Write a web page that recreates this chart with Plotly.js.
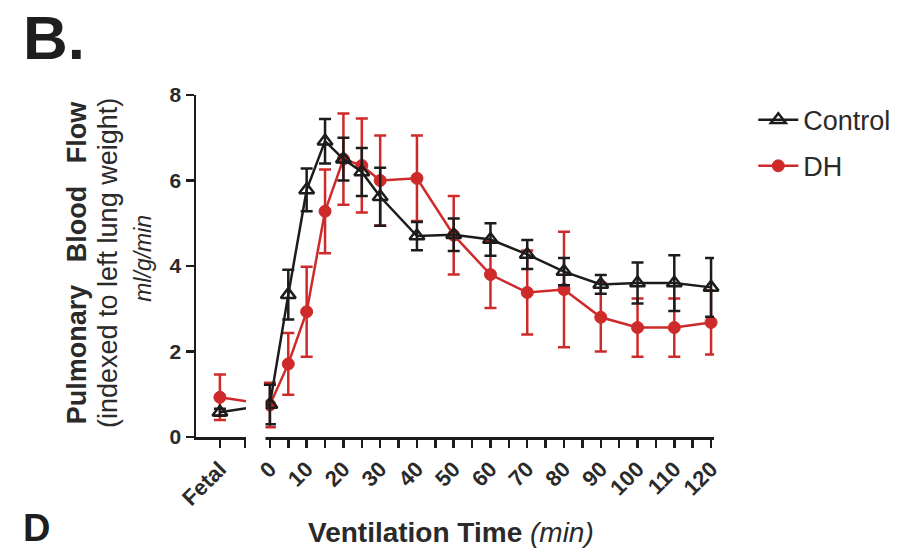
<!DOCTYPE html>
<html>
<head>
<meta charset="utf-8">
<script src="https://cdn.plot.ly/plotly-3.0.1.min.js"></script>
<style>html,body{margin:0;padding:0;background:#fff;}#chart{width:900px;height:552px;}</style>
</head>
<body>
<div id="chart"></div>
<script>
// ---- data ----
const timeLabels = ['Fetal','0','5','10','15','20','25','30','40','50','60','70','80','90','100','110','120'];
const controlMean = [0.58, 0.76, 3.33, 5.78, 6.92, 6.5, 6.2, 5.62, 4.7, 4.73, 4.62, 4.27, 3.87, 3.57, 3.6, 3.6, 3.5];
const controlErr  = [0.08, 0.46, 0.58, 0.5, 0.52, 0.5, 0.56, 0.68, 0.33, 0.38, 0.38, 0.34, 0.32, 0.22, 0.48, 0.65, 0.69];
const dhMean = [0.93, 0.75, 1.71, 2.93, 5.28, 6.5, 6.35, 6.0, 6.05, 4.72, 3.8, 3.38, 3.45, 2.8, 2.56, 2.56, 2.68];
const dhErr  = [0.53, 0.52, 0.72, 1.05, 0.98, 1.07, 1.1, 1.05, 1.0, 0.92, 0.78, 0.98, 1.35, 0.8, 0.68, 0.68, 0.75];
const majorTicks = ['0','10','20','30','40','50','60','70','80','90','100','110','120'];
const yTicks = [0, 2, 4, 6, 8];

// ---- layout constants ----
const FETAL_POS = -13.6;   // position of the "Fetal" category on the broken axis
const FETAL_END = -6.8;    // end of the fetal axis segment
const FONT = 'Liberation Sans, Arial, Helvetica, sans-serif';
const BLACK = '#1c1c1c';
const RED = '#cf2a2a';
const TXT = '#2a2a2a';

const xPos = timeLabels.map(l => l === 'Fetal' ? FETAL_POS : Number(l));

// tick positions: fetal, segment end, and every 5 min on the main segment
const tickVals = [FETAL_POS, FETAL_END];
const tickText = ['Fetal', ''];
for (let t = 0; t <= 120; t += 5) {
  tickVals.push(t);
  tickText.push(majorTicks.includes(String(t)) ? String(t) : '');
}

const dh = {
  x: xPos, y: dhMean, type: 'scatter', mode: 'lines+markers', name: 'DH',
  legendrank: 2, legendgroup: 'dh', cliponaxis: false,
  line: {color: RED, width: 2.5},
  marker: {symbol: 'circle', size: 12, color: RED, line: {color: RED, width: 1}},
  error_y: {type: 'data', array: dhErr, visible: true, color: RED, thickness: 2.5, width: 6}
};
const control = {
  x: xPos, y: controlMean, type: 'scatter', mode: 'lines+markers', name: 'Control',
  legendrank: 1, legendgroup: 'ctl', cliponaxis: false,
  line: {color: BLACK, width: 2.5},
  marker: {symbol: 'triangle-up-open', size: 13, color: BLACK, line: {color: BLACK, width: 2.5}},
  error_y: {type: 'data', array: controlErr, visible: true, color: BLACK, thickness: 2.5, width: 6}
};

const layout = {
  width: 900, height: 552,
  paper_bgcolor: '#ffffff', plot_bgcolor: 'rgba(0,0,0,0)',
  margin: {l: 196, r: 186, t: 95, b: 115},
  font: {family: FONT, color: TXT},
  showlegend: true,
  legend: {
    xref: 'container', x: 0.837, xanchor: 'left', y: 0.998, yanchor: 'top',
    font: {family: FONT, size: 27, color: TXT},
    traceorder: 'grouped', tracegroupgap: 8, itemwidth: 40,
    bgcolor: 'rgba(0,0,0,0)'
  },
  xaxis: {
    range: [-20.1, 120.8], showgrid: false, zeroline: false,
    showline: true, linecolor: BLACK, linewidth: 2.5,
    tickmode: 'array', tickvals: tickVals, ticktext: tickText,
    ticks: 'outside', ticklen: 8, tickwidth: 2.5, tickcolor: BLACK,
    tickangle: -45, tickfont: {family: FONT, size: 22, color: TXT, weight: 'bold'}
  },
  yaxis: {
    range: [0, 8], showgrid: false, zeroline: false,
    showline: true, linecolor: BLACK, linewidth: 2.5,
    tickmode: 'array', tickvals: yTicks,
    ticks: 'outside', ticklen: 8, tickwidth: 2.5, tickcolor: BLACK,
    tickfont: {family: FONT, size: 21, color: TXT, weight: 'bold'}
  },
  shapes: [
    // axis break: mask the gap between the fetal segment and the ventilation segment
    {type: 'rect', layer: 'above', xref: 'x', yref: 'paper',
     x0: FETAL_END + 0.3, x1: -1.2, y0: -0.04, y1: 0.14,
     fillcolor: '#ffffff', line: {width: 0}}
  ],
  annotations: [
    {text: '<b>B.</b>', xref: 'paper', yref: 'paper', x: -0.338, y: 1.276,
     xanchor: 'left', yanchor: 'top', showarrow: false,
     font: {family: FONT, size: 62, color: '#1e1e1e'}},
    {text: '<b>D</b>', xref: 'paper', yref: 'paper', x: -0.338, y: -0.334,
     xanchor: 'left', yanchor: 'bottom', showarrow: false,
     font: {family: FONT, size: 38, color: '#1e1e1e'}},
    {text: '<b>Pulmonary\u00a0\u00a0 Blood\u00a0\u00a0 Flow</b>', xref: 'paper', yref: 'paper',
     x: -0.229, y: 0.512, xanchor: 'center', yanchor: 'middle', textangle: -90, showarrow: false,
     font: {family: FONT, size: 27, color: TXT}},
    {text: '(indexed to left lung weight)', xref: 'paper', yref: 'paper',
     x: -0.171, y: 0.51, xanchor: 'center', yanchor: 'middle', textangle: -90, showarrow: false,
     font: {family: FONT, size: 27, color: TXT}},
    {text: '<i>ml/g/min</i>', xref: 'paper', yref: 'paper',
     x: -0.103, y: 0.523, xanchor: 'center', yanchor: 'middle', textangle: -90, showarrow: false,
     font: {family: FONT, size: 23, color: TXT}},
    {text: '<b>Ventilation Time</b> <i>(min)</i>', xref: 'paper', yref: 'paper',
     x: 0.492, y: -0.278, xanchor: 'center', yanchor: 'middle', showarrow: false,
     font: {family: FONT, size: 28, color: TXT}}
  ]
};

Plotly.newPlot('chart', [dh, control], layout, {displayModeBar: false, staticPlot: true});
</script>
</body>
</html>
